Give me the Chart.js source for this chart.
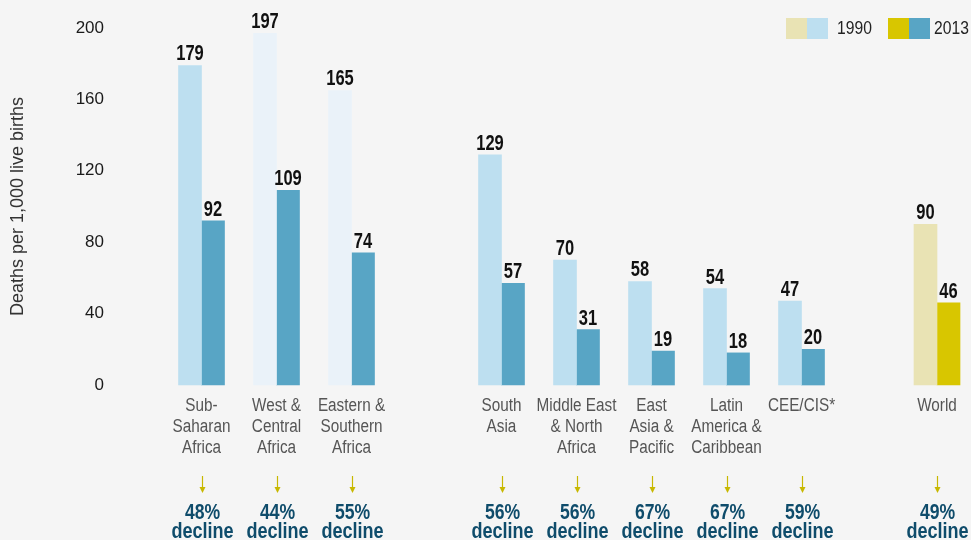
<!DOCTYPE html>
<html><head><meta charset="utf-8">
<script src="https://cdn.jsdelivr.net/npm/chart.js@4/dist/chart.umd.min.js"></script>
<style>
html,body{margin:0;padding:0;background:#f5f5f5;overflow:hidden;width:971px;height:540px}
#wrap{position:relative;width:1087px;height:540px}
</style></head>
<body><div id="wrap"><canvas id="c"></canvas></div>
<script>
// Regional groups (empty entries are spacer slots)
const regions = [["Sub-","Saharan","Africa"],["West &","Central","Africa"],["Eastern &","Southern","Africa"],[],["South","Asia"],["Middle East","& North","Africa"],["East","Asia &","Pacific"],["Latin","America &","Caribbean"],["CEE/CIS*"],[],[],[]];
const regions1990 = [179,197,165,null,129,70,58,54,47,null,null,null];
const regions2013 = [92,109,74,null,57,31,19,18,20,null,null,null];
const regionsDecline = [48,44,55,null,56,56,67,67,59,null,null,null];
// World group (on its own category axis; leading entries are spacer slots)
const world = [[],[],["World"]];
const world1990 = [null,null,90];
const world2013 = [null,null,46];
const worldDecline = [null,null,49];
const yTicks = [0,40,80,120,160,200];
const seriesNames = ["1990","2013"];
const yTitle = "Deaths per 1,000 live births";

const FONT = "'Liberation Sans','Arial',sans-serif";
const isFaded = i => i === 1 || i === 2;
const c1990 = regions1990.map((v,i) => isFaded(i) ? '#eaf2f9' : '#bddff0');

function txt(ctx, s, x, y, sx, align) {
  ctx.save();
  ctx.translate(x, y);
  ctx.scale(sx, 1);
  ctx.textAlign = align || 'center';
  ctx.fillText(s, 0, 0);
  ctx.restore();
}

const overlay = {
  id: 'overlay',
  afterDraw(chart) {
    const ctx = chart.ctx;
    ctx.save();
    // value labels
    ctx.font = "bold 22px " + FONT;
    ctx.fillStyle = '#111';
    ctx.textBaseline = 'alphabetic';
    chart.data.datasets.forEach((ds, di) => {
      const meta = chart.getDatasetMeta(di);
      meta.data.forEach((bar, i) => {
        if (ds.data[i] == null) return;
        txt(ctx, String(ds.data[i]), bar.x, bar.y - 5, 0.75);
      });
    });
    const groups = [[0, 1, regions, regionsDecline], [2, 3, world, worldDecline]];
    groups.forEach(([da, db, labels, decl]) => {
      const ma = chart.getDatasetMeta(da).data, mb = chart.getDatasetMeta(db).data;
      const centerOf = i => (ma[i].x + mb[i].x) / 2;
      // category labels
      ctx.font = "18px " + FONT;
      ctx.fillStyle = '#555';
      ctx.textBaseline = 'middle';
      labels.forEach((lines, i) => {
        if (!lines.length) return;
        const x = centerOf(i);
        lines.forEach((t, k) => txt(ctx, t, x, 406 + k * 21, 0.85));
      });
      // arrows + decline
      decl.forEach((p, i) => {
        if (p == null) return;
        const x = Math.round(centerOf(i)) + 0.5;
        ctx.strokeStyle = '#c8b800';
        ctx.lineWidth = 1.2;
        ctx.beginPath(); ctx.moveTo(x, 476); ctx.lineTo(x, 489); ctx.stroke();
        ctx.fillStyle = '#c8b800';
        ctx.beginPath(); ctx.moveTo(x - 3, 487); ctx.lineTo(x + 3, 487); ctx.lineTo(x, 493); ctx.closePath(); ctx.fill();
        ctx.fillStyle = '#0f4c6b';
        ctx.font = "bold 22px " + FONT;
        txt(ctx, p + '%', x, 513, 0.8);
        txt(ctx, 'decline', x, 532, 0.82);
      });
    });
    // legend
    ctx.font = "18px " + FONT;
    ctx.fillStyle = '#e9e3b4'; ctx.fillRect(786, 18, 21, 21);
    ctx.fillStyle = '#bddff0'; ctx.fillRect(807, 18, 21, 21);
    ctx.fillStyle = '#222'; txt(ctx, seriesNames[0], 837, 29, 0.87, 'left');
    ctx.fillStyle = '#d8c600'; ctx.fillRect(888, 18, 21, 21);
    ctx.fillStyle = '#58a5c5'; ctx.fillRect(909, 18, 21, 21);
    ctx.fillStyle = '#222'; txt(ctx, seriesNames[1], 934, 29, 0.87, 'left');
    ctx.restore();
  }
};

const regionBar = { borderWidth: 0, barThickness: 23, clip: false, xAxisID: 'x' };
const worldBar = { borderWidth: 0, barThickness: 23, clip: false, xAxisID: 'x2' };

new Chart(document.getElementById('c'), {
  type: 'bar',
  data: {
    labels: regions,
    datasets: [
      { ...regionBar, stack: 's1990', label: seriesNames[0], data: regions1990, backgroundColor: c1990 },
      { ...regionBar, stack: 's2013', label: seriesNames[1], data: regions2013, backgroundColor: '#58a5c5' },
      { ...worldBar, stack: 's1990', label: seriesNames[0] + ' World', data: world1990, backgroundColor: '#e9e3b4' },
      { ...worldBar, stack: 's2013', label: seriesNames[1] + ' World', data: world2013, backgroundColor: '#d8c600' }
    ]
  },
  options: {
    responsive: true,
    maintainAspectRatio: false,
    animation: false,
    layout: { padding: { top: 28, bottom: 155, left: 0, right: 0 } },
    plugins: { legend: { display: false }, tooltip: { enabled: false } },
    scales: {
      x: { type: 'category', labels: regions, display: false, stacked: true },
      x2: { type: 'category', labels: world, display: false, stacked: true },
      y: {
        min: 0, max: 200, stacked: false,
        afterBuildTicks: s => { s.ticks = yTicks.map(v => ({ value: v })); },
        afterFit: s => { s.width = 187; s.paddingTop = 0; s.paddingBottom = 0; },
        grid: { display: false, drawTicks: false },
        border: { display: false },
        ticks: { padding: 83, color: '#1a1a1a', font: { family: FONT, size: 17 } },
        title: { display: true, text: yTitle, color: '#333', font: { family: FONT, size: 18 }, padding: { top: 7, bottom: 0 } }
      }
    }
  },
  plugins: [overlay]
});
</script>
</body></html>
